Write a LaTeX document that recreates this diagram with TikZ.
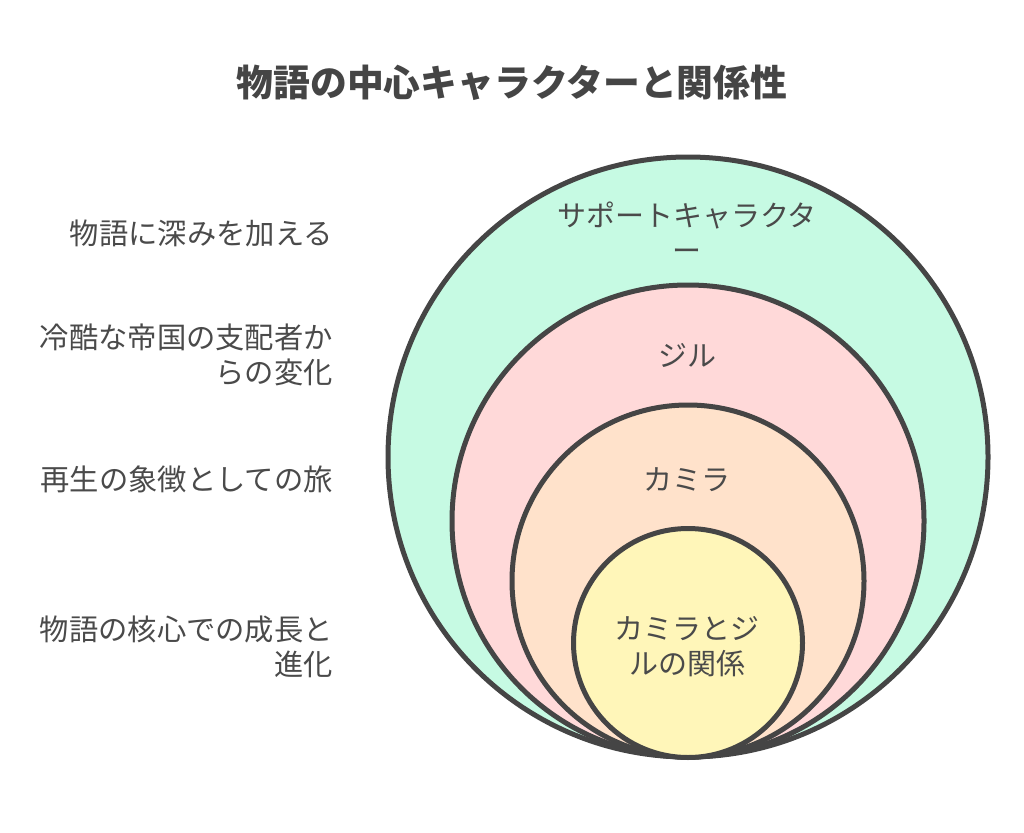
\documentclass[tikz,border=0pt]{standalone}
\usepackage{fontspec}
\setmainfont{Noto Sans CJK JP}
\definecolor{ink}{HTML}{454545}
\definecolor{txt}{HTML}{4A4A4A}
\definecolor{mint}{HTML}{C6FAE3}
\definecolor{pinkf}{HTML}{FFD9D9}
\definecolor{peach}{HTML}{FFE2CB}
\definecolor{lemon}{HTML}{FFF6B9}
\tikzset{
  ring/.style={circle, draw=ink, line width=5pt, inner sep=0pt},
  sidelabel/.style={anchor=east, align=right, text=txt, font=\fontsize{29.3}{35}\selectfont, inner sep=0pt},
  ringlabel/.style={align=center, text=txt, font=\fontsize{29}{35}\selectfont, inner sep=0pt},
}
\begin{document}
\begin{tikzpicture}[x=1pt,y=-1pt]
\useasboundingbox[fill=white] (0,0) rectangle (1024,832);
\node[font=\bfseries\fontsize{36.8}{42}\selectfont, text=ink] (title) at (512,83) {物語の中心キャラクターと関係性};
% circles
\node[ring, fill=mint, minimum size=600pt] (c1) at (688,457) {};
\node[ring, fill=pinkf, minimum size=472pt] (c2) at (688,521) {};
\node[ring, fill=peach, minimum size=352pt] (c3) at (688,581) {};
\node[ring, fill=lemon, minimum size=229pt] (c4) at (688,643) {};
% ring labels
\node[ringlabel] (t1) at (687,232) {サポートキャラクタ\\ー};
\node[ringlabel] (t2) at (687,355) {ジル};
\node[ringlabel] (t3) at (687,480) {カミラ};
\node[ringlabel] (t4) at (687,647) {カミラとジ\\ルの関係};
% side labels
\node[sidelabel] (s1) at (333,233) {物語に深みを加える};
\node[sidelabel] (s2) at (333,355) {冷酷な帝国の支配者か\\らの変化};
\node[sidelabel] (s3) at (333,479) {再生の象徴としての旅};
\node[sidelabel] (s4) at (333,647) {物語の核心での成長と\\進化};
\end{tikzpicture}
\end{document}
